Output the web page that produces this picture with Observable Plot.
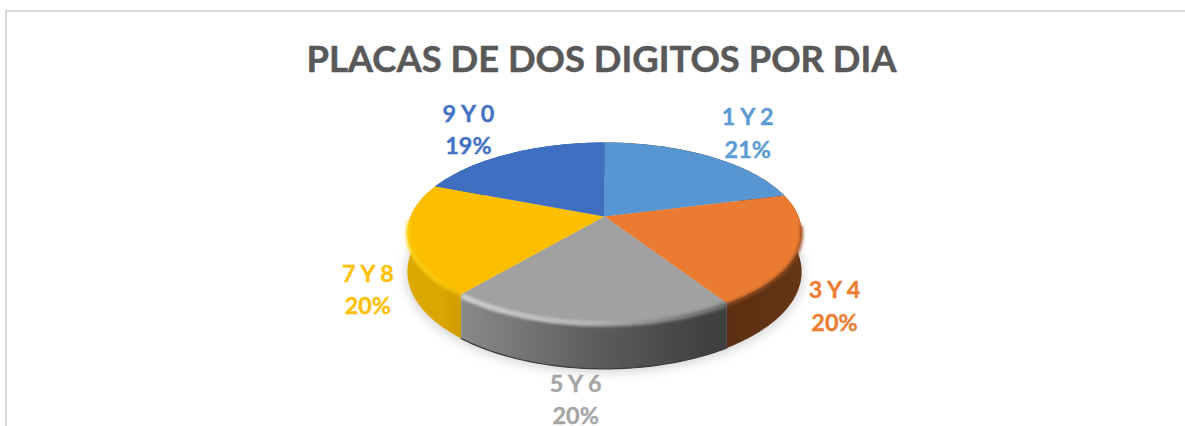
<!DOCTYPE html>
<html>
<head>
<meta charset="utf-8">
<script src="https://cdn.jsdelivr.net/npm/d3@7"></script>
<script src="https://cdn.jsdelivr.net/npm/@observablehq/plot@0.6"></script>
<style>
  html, body { margin: 0; padding: 0; background: #fff; overflow: hidden; }
  #wrap { position: relative; width: 1185px; height: 426px; overflow: hidden; }
  #frame { position: absolute; left: 5px; top: 10px; right: -4px; bottom: -4px; border: 2px solid #d9d9d9; }
  #chart { position: absolute; left: 0; top: 0; }
  #chart svg { background: transparent; display: block; }
</style>
</head>
<body>
<div id="wrap"><div id="frame"></div><div id="chart"></div></div>
<script>
const titleText = "PLACAS DE DOS DIGITOS POR DIA";
const categories = ["1 Y 2", "3 Y 4", "5 Y 6", "7 Y 8", "9 Y 0"];
const shares = [21, 20, 20, 20, 19];

const topColors = ["#5796d3", "#ea7b30", "#a1a1a1", "#fbbf00", "#3f6fc0"];
const labelColors = ["#5b9bd5", "#ed7d31", "#a5a5a5", "#ffc000", "#4472c4"];
const bevelColors = [null, "#9a4f20", "url(#bevelGray)", "url(#bevelYellow)", null];
const bevelWidths = [0, 3, 5, 3, 0];
const labelOffsets = [[39, -25], [37, 53], [-14, 75.5], [-40, 48.5], [-41, -26]];

// pie geometry in the disc's own units, tilted with perspective
const persp = 0.178, drop = 0.436;
const frontFrom = 95 * Math.PI / 180, frontTo = 268 * Math.PI / 180;
const project = (a, r = 1, z = 0) => {
  const u = r * Math.sin(a), v = r * Math.cos(a), w = 1 + persp * v;
  return { X: u / w, Y: (v - z) / w };
};
const arcs = d3.pie().sort(null).value(d => d)(shares);
const sweep = (a0, a1) => d3.range(61).map(i => a0 + (a1 - a0) * i / 60);

const topRing = (arc) => [
  project(0, 0),
  ...sweep(arc.startAngle, arc.endAngle).map(a => project(a))
];
const sideRing = (arc) => {
  const s = sweep(arc.startAngle, arc.endAngle);
  return [...s.map(a => project(a)), ...s.slice().reverse().map(a => project(a, 1, drop))];
};
const rimLine = (arc, r) => sweep(Math.max(arc.startAngle, frontFrom), Math.min(arc.endAngle, frontTo)).map(a => project(a, r, 0.012));
const fullRing = sweep(0, 2 * Math.PI).map(a => project(a, 1.005, drop + 0.02));
const baseEdge = (arc) => sweep(arc.startAngle, arc.endAngle).map(a => project(a, 1, drop));

const defs = () => {
  const d = d3.create("svg:defs");
  const grad = (id, stops) => {
    const g = d.append("linearGradient").attr("id", id);
    stops.forEach(([o, c]) => g.append("stop").attr("offset", o).attr("stop-color", c));
  };
  grad("sideOrange", [[0, "#5c2f12"], [1, "#643616"]]);
  grad("sideGray", [[0, "#8a8a8a"], [0.5, "#5d5d5d"], [0.9, "#424242"], [1, "#3f3f3f"]]);
  grad("sideYellow", [[0, "#dca800"], [0.6, "#d9a500"], [1, "#cf9c00"]]);
  grad("bevelGray", [[0, "#d4d4d4"], [0.45, "#bdbdbd"], [1, "#6f6f6f"]]);
  grad("bevelYellow", [[0, "#ffd51c"], [0.6, "#ffcf10"], [1, "#e8b400"]]);
  return d.node();
};
const sideFills = [ "#5c2f12", "url(#sideOrange)", "url(#sideGray)", "url(#sideYellow)", "#2f5597" ];

// draw back sides first so the front sides sit on top
const sideOrder = [0, 4, 1, 3, 2];

const marks = [
  defs,
  Plot.line(fullRing, { x: "X", y: "Y", fill: "#bdbdbd", stroke: "none", imageFilter: "blur(6px)", fillOpacity: 0.75 }),
  ...sideOrder.map(i =>
    Plot.line(sideRing(arcs[i]), { x: "X", y: "Y", fill: sideFills[i], stroke: "none" })
  ),
  Plot.line(baseEdge(arcs[2]), { x: "X", y: "Y", stroke: "#3a3a3a", strokeWidth: 1.2, imageFilter: "blur(0.6px)" }),
  ...arcs.map((arc, i) =>
    Plot.line(topRing(arc), { x: "X", y: "Y", fill: topColors[i], stroke: "none" })
  ),
  ...arcs.flatMap((arc, i) => bevelColors[i] ? [
    Plot.line(rimLine(arc, 1), { x: "X", y: "Y", stroke: bevelColors[i], strokeWidth: bevelWidths[i], strokeLinecap: "butt", imageFilter: "blur(1.6px)" })
  ] : []),
  ...arcs.map((arc, i) => {
    const mid = (arc.startAngle + arc.endAngle) / 2;
    const p = project(mid);
    return Plot.text([{ ...p, label: `${categories[i]}\n${shares[i]}%` }], {
      x: "X", y: "Y", text: "label",
      dx: labelOffsets[i][0], dy: labelOffsets[i][1],
      fill: labelColors[i], stroke: labelColors[i], strokeWidth: 0.35,
      fontSize: 23.4, fontWeight: 700, lineHeight: 1.39,
      textAnchor: "middle", lineAnchor: "middle"
    });
  }),
  Plot.text([titleText], {
    frameAnchor: "top", dy: 60, text: d => d, fontSize: 36.4, fontWeight: 700,
    fill: "#595959", stroke: "#595959", strokeWidth: 0.5, lineAnchor: "middle", dx: 8.5
  })
];

const cx = 604, cy = 216, rx = 194, ry = 87.2;
const chart = Plot.plot({
  width: 1185, height: 426,
  marginTop: 0, marginRight: 0, marginBottom: 0, marginLeft: 0,
  style: { fontFamily: "Lato, 'Open Sans', sans-serif", background: "transparent" },
  x: { domain: [-1, 1], range: [cx - rx, cx + rx], axis: null },
  y: { domain: [-1, 1], range: [cy + ry, cy - ry], axis: null },
  marks
});
document.getElementById("chart").append(chart);
</script>
</body>
</html>
